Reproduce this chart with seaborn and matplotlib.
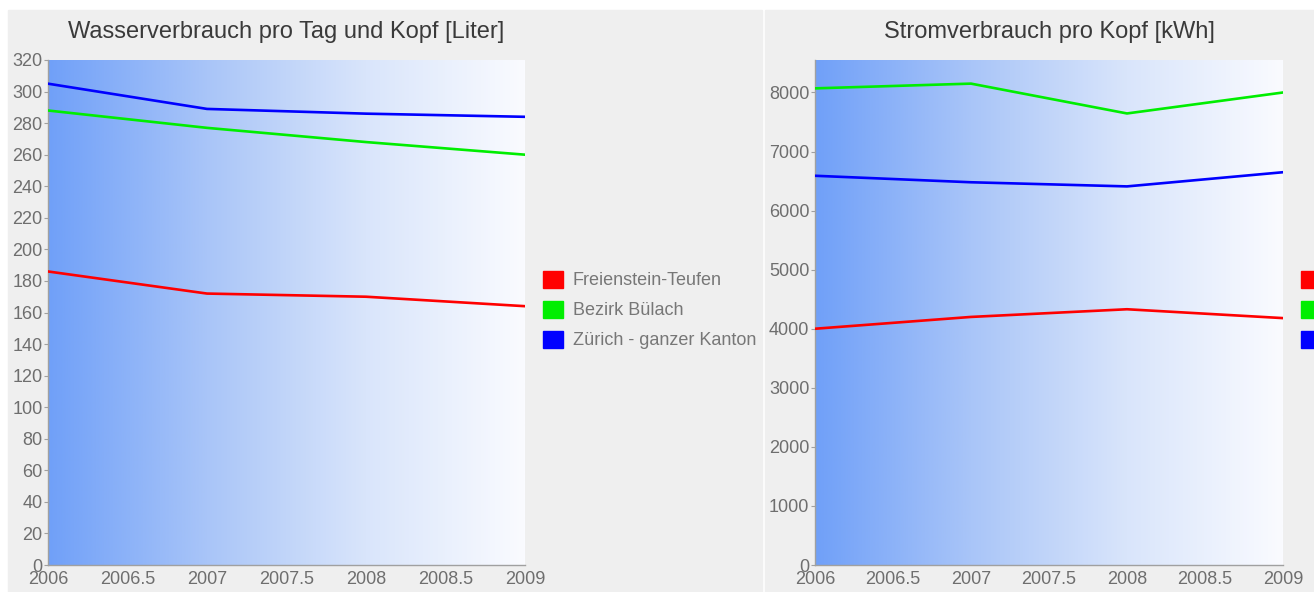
import numpy as np
import pandas as pd
import matplotlib
matplotlib.use("Agg")
import matplotlib.pyplot as plt
from matplotlib.patches import Rectangle, Patch
from matplotlib.colors import LinearSegmentedColormap
import seaborn as sns

years = [2006, 2007, 2008, 2009]
regions = ["Freienstein-Teufen", "Bezirk Bülach", "Zürich - ganzer Kanton"]

# Wasserverbrauch pro Tag und Kopf [Liter]
water_freienstein = [186, 172, 170, 164]
water_buelach = [288, 277, 268, 260]
water_zuerich = [305, 289, 286, 284]

# Stromverbrauch pro Kopf [kWh]
power_freienstein = [4000, 4200, 4330, 4180]
power_buelach = [8070, 8150, 7645, 8000]
power_zuerich = [6590, 6480, 6410, 6650]

x_ticks = [2006, 2006.5, 2007, 2007.5, 2008, 2008.5, 2009]
x_tick_labels = ["2006", "2006.5", "2007", "2007.5", "2008", "2008.5", "2009"]
water_ticks = list(range(0, 321, 20))
power_ticks = list(range(0, 8001, 1000))


def long_frame(series):
    rows = []
    for name, values in zip(regions, series):
        for year, v in zip(years, values):
            rows.append({"Jahr": year, "Wert": v, "Region": name})
    return pd.DataFrame(rows)


water_df = long_frame([water_freienstein, water_buelach, water_zuerich])
power_df = long_frame([power_freienstein, power_buelach, power_zuerich])

sns.set_style("white")
plt.rcParams["font.family"] = ["Liberation Sans", "DejaVu Sans"]

palette = {"Freienstein-Teufen": "#ff0000",
           "Bezirk Bülach": "#00ee00",
           "Zürich - ganzer Kanton": "#0000ff"}

W, H = 1314, 592
fig = plt.figure(figsize=(W / 100, H / 100), dpi=100, facecolor="white")

# panel backgrounds
panel_col = "#efefef"
fig.patches.append(Rectangle((8 / W, 0), (762 - 8) / W, (H - 10) / H,
                             transform=fig.transFigure, color=panel_col, zorder=-5))
fig.patches.append(Rectangle((765 / W, 0), (W - 765) / W, (H - 10) / H,
                             transform=fig.transFigure, color=panel_col, zorder=-5))

grad = LinearSegmentedColormap.from_list(
    "bg", ["#70a0f8", "#a9c5f8", "#d9e5fb", "#fafbff"])

tick_col = "#6e6e6e"
spine_col = "#a0a0a0"


def draw_panel(rect, df, title, ymax, yticks):
    ax = fig.add_axes(rect)
    ax.set_facecolor("none")
    ax.imshow(np.linspace(0, 1, 256).reshape(1, -1), cmap=grad, aspect="auto",
              extent=(0, 1, 0, 1), transform=ax.transAxes, zorder=0)
    sns.lineplot(data=df, x="Jahr", y="Wert", hue="Region", palette=palette,
                 linewidth=1.9, ax=ax, legend=False, zorder=3)
    ax.set_xlim(2006, 2009)
    ax.set_ylim(0, ymax)
    ax.set_xticks(x_ticks)
    ax.set_xticklabels(x_tick_labels)
    ax.set_yticks(yticks)
    ax.set_xlabel("")
    ax.set_ylabel("")
    for s in ["top", "right"]:
        ax.spines[s].set_visible(False)
    for s in ["left", "bottom"]:
        ax.spines[s].set_color(spine_col)
        ax.spines[s].set_linewidth(1.0)
    ax.tick_params(axis="y", direction="out", length=3, width=0.8, color=spine_col,
                   labelsize=13, labelcolor=tick_col, pad=1, left=True)
    ax.tick_params(axis="x", length=0, labelsize=13, labelcolor=tick_col, pad=4)
    ax.set_title(title, fontsize=17, color="#3a3a3a", pad=16)
    handles = [Patch(facecolor=palette[r], edgecolor=palette[r]) for r in regions]
    ax.legend(handles, regions, loc="center left",
              bbox_to_anchor=(1 + 18 / (rect[2] * W), 0.505),
              frameon=False, fontsize=13, labelcolor="#777777",
              handlelength=1.1, handleheight=1.1, handletextpad=0.55,
              labelspacing=0.62, borderpad=0, borderaxespad=0)
    return ax


bottom = (H - 565) / H
height = (565 - 60) / H
draw_panel([48 / W, bottom, (525 - 48) / W, height], water_df,
           "Wasserverbrauch pro Tag und Kopf [Liter]", 320, water_ticks)
draw_panel([815 / W, bottom, (1283 - 815) / W, height], power_df,
           "Stromverbrauch pro Kopf [kWh]", 8550, power_ticks)

fig.savefig("out.png", dpi=100, facecolor="white")
